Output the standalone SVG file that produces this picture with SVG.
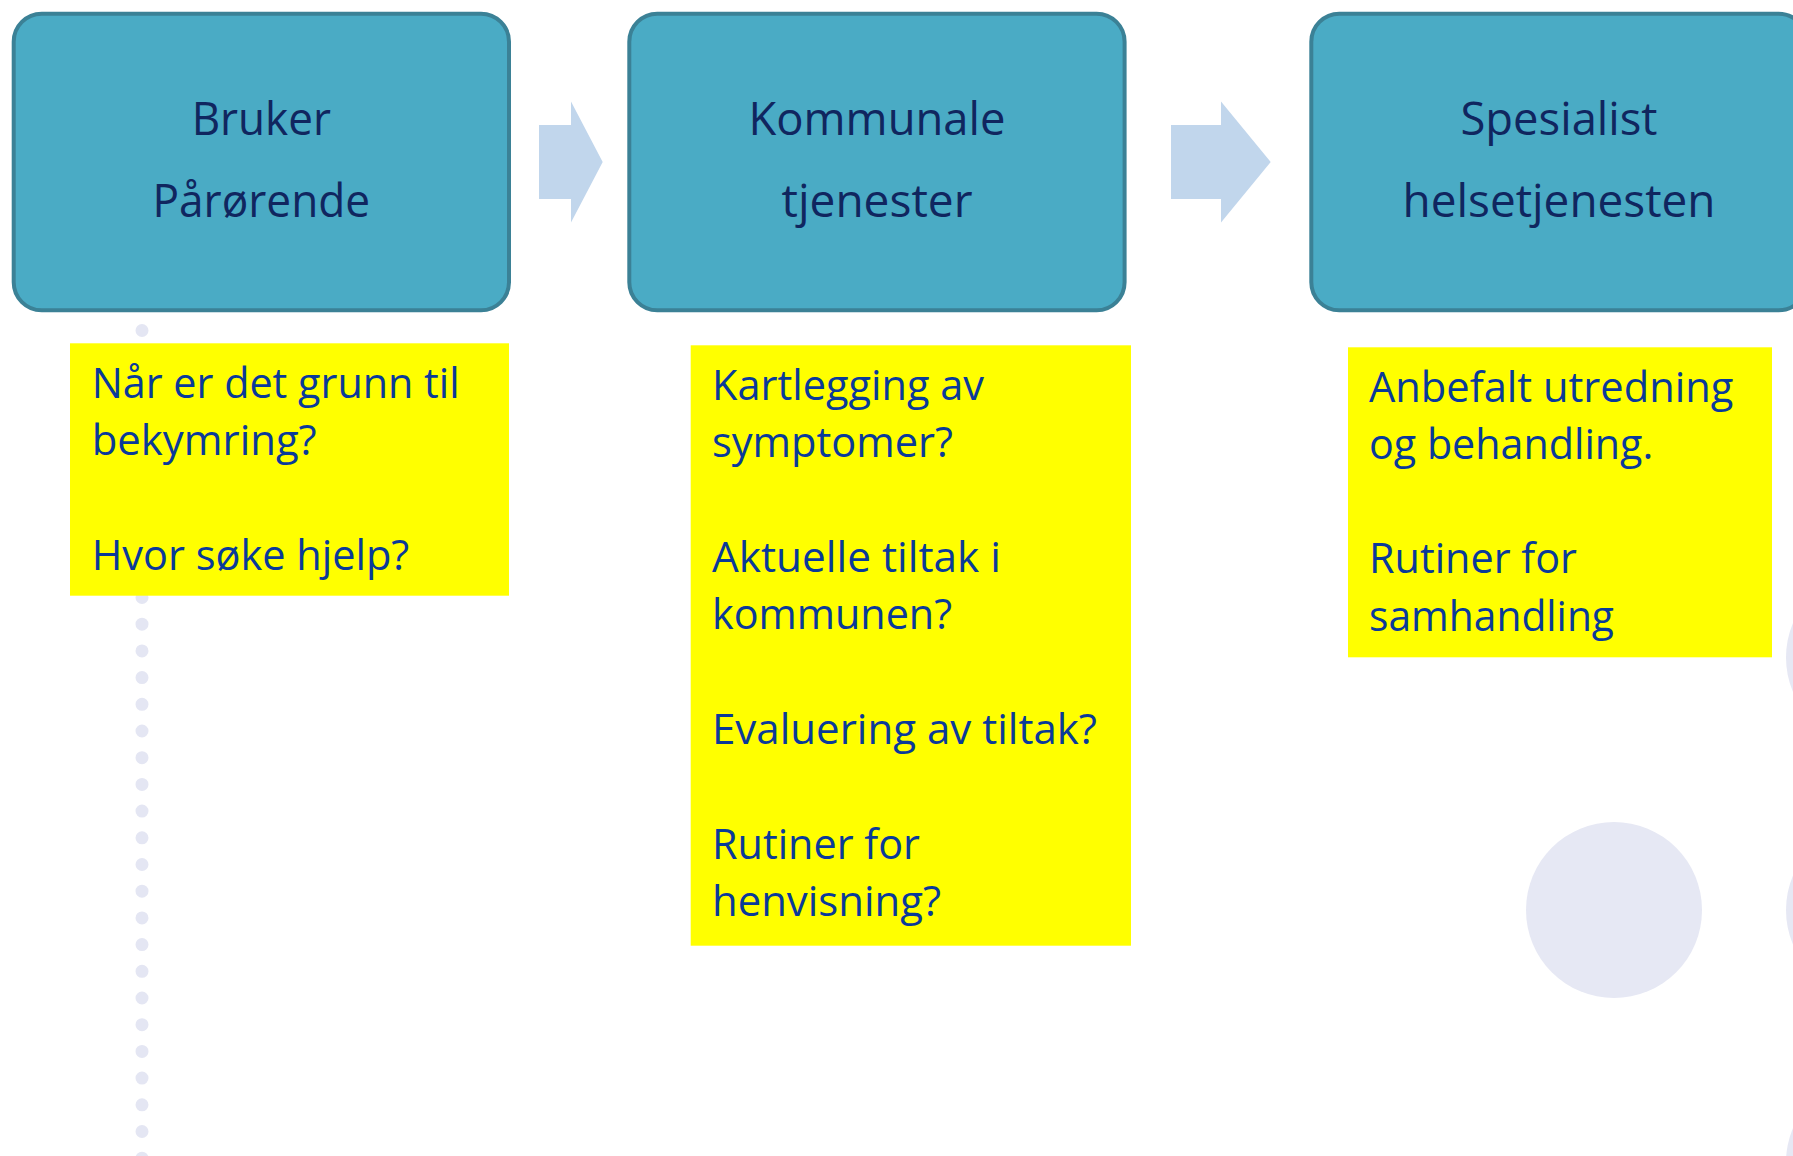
<svg xmlns="http://www.w3.org/2000/svg" width="1793" height="1156" viewBox="0 0 1793 1156">
  <style>
    .box { fill: #4aabc5; stroke: #3b8196; stroke-width: 4; }
    .btxt { font-family: "Open Sans", "Noto Sans", "Liberation Sans", sans-serif; font-size: 45px; fill: #10265f; text-anchor: middle; }
    .note { fill: #ffff00; }
    .ntxt { font-family: "Open Sans", "Noto Sans", "Liberation Sans", sans-serif; font-size: 42px; fill: #0a3a99; }
    .arrow { fill: #c1d6ec; }
    .deco { fill: #e6e8f4; }
  </style>
  <rect width="1793" height="1156" fill="#ffffff"/>
  <g id="decoration">
    <line x1="142" y1="330.5" x2="142" y2="1170" stroke="#e4e6f3" stroke-width="13" stroke-linecap="round" stroke-dasharray="0 26.7"/>
    <circle class="deco" cx="1614" cy="910" r="88"/>
    <circle class="deco" cx="1874" cy="657.5" r="88"/>
    <circle class="deco" cx="1874" cy="910" r="88"/>
    <circle class="deco" cx="1874" cy="1162.5" r="88"/>
  </g>
  <g id="connectors">
    <path class="arrow" d="M539 125 H571 V101.5 L602.7 162 L571 222.5 V199 H539 Z"/>
    <path class="arrow" d="M1171 125 H1221 V101.5 L1270.7 162 L1221 222.5 V199 H1171 Z"/>
  </g>
  <g id="node-bruker">
    <rect class="box" x="13.7" y="13.7" width="495.3" height="296.6" rx="28" ry="28"/>
    <text class="btxt" x="261.3" y="135" textLength="139.3" lengthAdjust="spacingAndGlyphs">Bruker</text>
    <text class="btxt" x="261.3" y="217.3" textLength="217.7" lengthAdjust="spacingAndGlyphs">Pårørende</text>
  </g>
  <g id="node-kommunale">
    <rect class="box" x="629.3" y="13.7" width="495.3" height="296.6" rx="28" ry="28"/>
    <text class="btxt" x="877" y="135" textLength="257" lengthAdjust="spacingAndGlyphs">Kommunale</text>
    <text class="btxt" x="877" y="217.3" textLength="191" lengthAdjust="spacingAndGlyphs">tjenester</text>
  </g>
  <g id="node-spesialist">
    <rect class="box" x="1311.3" y="13.7" width="495.3" height="296.6" rx="28" ry="28"/>
    <text class="btxt" x="1559" y="135" textLength="197" lengthAdjust="spacingAndGlyphs">Spesialist</text>
    <text class="btxt" x="1559" y="217.3" textLength="313" lengthAdjust="spacingAndGlyphs">helsetjenesten</text>
  </g>
  <g id="note-bruker">
    <rect class="note" x="70" y="343.3" width="439" height="252.4"/>
    <text class="ntxt" x="91.7" y="397.7" textLength="368" lengthAdjust="spacingAndGlyphs">Når er det grunn til</text>
    <text class="ntxt" x="91.7" y="455" textLength="225" lengthAdjust="spacingAndGlyphs">bekymring?</text>
    <text class="ntxt" x="91.7" y="570" textLength="317.6" lengthAdjust="spacingAndGlyphs">Hvor søke hjelp?</text>
  </g>
  <g id="note-kommunale">
    <rect class="note" x="690.7" y="345.3" width="440.3" height="600.4"/>
    <text class="ntxt" x="712" y="399.7" textLength="272" lengthAdjust="spacingAndGlyphs">Kartlegging av</text>
    <text class="ntxt" x="712" y="457.1" textLength="241" lengthAdjust="spacingAndGlyphs">symptomer?</text>
    <text class="ntxt" x="712" y="571.9" textLength="289" lengthAdjust="spacingAndGlyphs">Aktuelle tiltak i</text>
    <text class="ntxt" x="712" y="629.3" textLength="240" lengthAdjust="spacingAndGlyphs">kommunen?</text>
    <text class="ntxt" x="712" y="744.1" textLength="385" lengthAdjust="spacingAndGlyphs">Evaluering av tiltak?</text>
    <text class="ntxt" x="712" y="858.9" textLength="208" lengthAdjust="spacingAndGlyphs">Rutiner for</text>
    <text class="ntxt" x="712" y="916.3" textLength="229" lengthAdjust="spacingAndGlyphs">henvisning?</text>
  </g>
  <g id="note-spesialist">
    <rect class="note" x="1348" y="347.3" width="424" height="310"/>
    <text class="ntxt" x="1369" y="401.7" textLength="364.3" lengthAdjust="spacingAndGlyphs">Anbefalt utredning</text>
    <text class="ntxt" x="1369" y="459" textLength="284.3" lengthAdjust="spacingAndGlyphs">og behandling.</text>
    <text class="ntxt" x="1369" y="573.3" textLength="208" lengthAdjust="spacingAndGlyphs">Rutiner for</text>
    <text class="ntxt" x="1369" y="630.7" textLength="245" lengthAdjust="spacingAndGlyphs">samhandling</text>
  </g>
</svg>
